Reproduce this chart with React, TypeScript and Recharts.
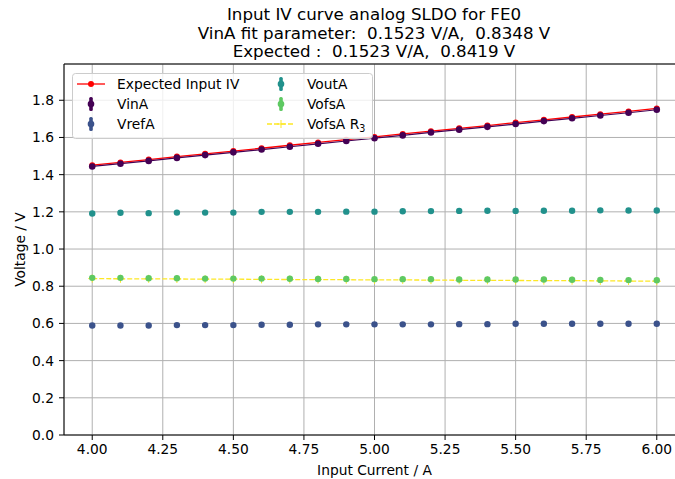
import React from 'react';
import { ComposedChart, Line, XAxis, YAxis, CartesianGrid, Legend, Label } from 'recharts';

const currents = [4.0, 4.1, 4.2, 4.3, 4.4, 4.5, 4.6, 4.7, 4.8, 4.9, 5.0, 5.1, 5.2, 5.3, 5.4, 5.5, 5.6, 5.7, 5.8, 5.9, 6.0];
const expectedIV = [1.451, 1.466, 1.481, 1.497, 1.512, 1.527, 1.542, 1.558, 1.573, 1.588, 1.603, 1.619, 1.634, 1.649, 1.664, 1.680, 1.695, 1.710, 1.725, 1.740, 1.756];
const vinA = [1.444, 1.459, 1.474, 1.490, 1.505, 1.520, 1.535, 1.550, 1.566, 1.581, 1.596, 1.611, 1.627, 1.642, 1.657, 1.672, 1.688, 1.703, 1.718, 1.733, 1.749];
const vrefA = [0.589, 0.589, 0.589, 0.591, 0.591, 0.591, 0.593, 0.593, 0.595, 0.595, 0.595, 0.595, 0.595, 0.596, 0.596, 0.598, 0.598, 0.598, 0.598, 0.598, 0.598];
const voutA = [1.191, 1.195, 1.193, 1.196, 1.196, 1.196, 1.200, 1.200, 1.200, 1.201, 1.201, 1.203, 1.204, 1.205, 1.206, 1.205, 1.206, 1.206, 1.208, 1.207, 1.207];
const vofsA = [0.845, 0.845, 0.843, 0.843, 0.841, 0.841, 0.841, 0.840, 0.839, 0.839, 0.838, 0.838, 0.838, 0.836, 0.836, 0.836, 0.836, 0.835, 0.834, 0.833, 0.832];
const vofsAR3 = [0.841, 0.840, 0.840, 0.839, 0.838, 0.838, 0.837, 0.836, 0.836, 0.835, 0.834, 0.834, 0.833, 0.832, 0.832, 0.831, 0.830, 0.830, 0.829, 0.828, 0.827];

const xTicks = [4.0, 4.25, 4.5, 4.75, 5.0, 5.25, 5.5, 5.75, 6.0];
const yTicks = [0, 0.2, 0.4, 0.6, 0.8, 1.0, 1.2, 1.4, 1.6, 1.8];
const titleLines = [
  'Input IV curve analog SLDO for FE0',
  'VinA fit parameter:  0.1523 V/A,  0.8348 V',
  'Expected :  0.1523 V/A,  0.8419 V',
];

const C_EXP = '#ff0000';
const C_VIN = '#440154';
const C_VREF = '#3b528b';
const C_VOUT = '#21918c';
const C_VOFS = '#5ec962';
const C_R3 = '#fde725';

const FONT = '"DejaVu Sans", sans-serif';

const data = currents.map((x, i) => ({
  x,
  expected: expectedIV[i],
  vinA: vinA[i],
  vrefA: vrefA[i],
  voutA: voutA[i],
  vofsA: vofsA[i],
  vofsAR3: vofsAR3[i],
}));

const makeDot = (color: string, r: number) => (props: any) => (
  <circle key={`d-${color}-${props.index}`} cx={props.cx} cy={props.cy} r={r} fill={color} stroke="none" />
);

const plusDot = (color: string) => (props: any) => (
  <path
    key={`p-${props.index}`}
    d={`M${props.cx - 4},${props.cy}H${props.cx + 4}M${props.cx},${props.cy - 4}V${props.cy + 4}`}
    stroke={color}
    strokeWidth={1}
    fill="none"
  />
);

const LegendBox = () => {
  const rows = [11, 31, 51];
  const txt = (x: number, y: number, s: React.ReactNode) => (
    <text x={x} y={y + 5} fontSize={13.8} fontFamily={FONT} fill="#000">{s}</text>
  );
  const errMark = (cx: number, cy: number, c: string) => (
    <g>
      <rect x={cx - 1.8} y={cy - 7} width={3.6} height={14} fill={c} rx={1.5} />
      <circle cx={cx} cy={cy} r={3.3} fill={c} />
    </g>
  );
  return (
    <svg width={302} height={67} style={{ display: 'block' }}>
      <rect x={0.5} y={0.5} width={300} height={65} rx={3} fill="#ffffff" fillOpacity={0.8} stroke="#cccccc" />
      <line x1={5} y1={rows[0]} x2={33} y2={rows[0]} stroke={C_EXP} strokeWidth={1.3} />
      <circle cx={19} cy={rows[0]} r={3} fill={C_EXP} />
      {txt(45, rows[0], 'Expected Input IV')}
      {errMark(19, rows[1], C_VIN)}
      {txt(45, rows[1], 'VinA')}
      {errMark(19, rows[2], C_VREF)}
      {txt(45, rows[2], 'VrefA')}
      {errMark(209, rows[0], C_VOUT)}
      {txt(235, rows[0], 'VoutA')}
      {errMark(209, rows[1], C_VOFS)}
      {txt(235, rows[1], 'VofsA')}
      <line x1={195} y1={rows[2]} x2={223} y2={rows[2]} stroke={C_R3} strokeWidth={1.3} strokeDasharray="5 2" />
      <path d={`M${205},${rows[2]}H${213}M${209},${rows[2] - 4}V${rows[2] + 4}`} stroke={C_R3} strokeWidth={1} />
      <text x={235} y={rows[2] + 5} fontSize={13.8} fontFamily={FONT} fill="#000">
        VofsA R<tspan fontSize={9.6} dy={3}>3</tspan>
      </text>
    </svg>
  );
};

export default function App() {
  return (
    <div style={{ position: 'fixed', left: 0, top: 0, width: 675, height: 479, overflow: 'hidden', background: '#fff' }}>
      {titleLines.map((t, i) => (
        <div
          key={i}
          style={{
            position: 'absolute',
            left: 374 - 300,
            width: 600,
            top: 20.7 + i * 18.5 - 15.5,
            textAlign: 'center',
            fontFamily: FONT,
            fontSize: 16.7,
            lineHeight: '18px',
            color: '#000',
            whiteSpace: 'pre',
            zIndex: 2,
          }}
        >
          {t}
        </div>
      ))}
      <div style={{ position: 'absolute', left: 0, top: 0 }}>
        <ComposedChart width={700} height={479} data={data} margin={{ top: 63, right: 15, bottom: 0, left: 0 }}>
          <CartesianGrid stroke="#b0b0b0" strokeWidth={1} />
          <XAxis
            dataKey="x"
            type="number"
            domain={[3.9, 6.1]}
            allowDataOverflow
            ticks={xTicks}
            tickFormatter={(v: number) => v.toFixed(2)}
            height={44}
            tickSize={5}
            tickMargin={4}
            stroke="#000"
            tick={{ fill: '#000', fontSize: 13.8, fontFamily: FONT }}
          >
            <Label value="Input Current / A" position="insideBottom" offset={4} style={{ fontSize: 13.8, fontFamily: FONT, fill: '#000' }} />
          </XAxis>
          <XAxis
            xAxisId="top"
            orientation="top"
            type="number"
            domain={[3.9, 6.1]}
            allowDataOverflow
            ticks={xTicks}
            height={1}
            tick={false}
            tickSize={5}
            stroke="#000"
          />
          <YAxis
            type="number"
            domain={[0, 1.995]}
            allowDataOverflow
            ticks={yTicks}
            tickFormatter={(v: number) => v.toFixed(1)}
            width={64}
            tickSize={5}
            tickMargin={5}
            stroke="#000"
            tick={{ fill: '#000', fontSize: 13.8, fontFamily: FONT }}
          >
            <Label value="Voltage / V" angle={-90} position="insideLeft" offset={20} style={{ fontSize: 13.8, fontFamily: FONT, fill: '#000', textAnchor: 'middle' }} />
          </YAxis>
          <Line dataKey="vrefA" stroke="none" dot={makeDot(C_VREF, 3.2)} isAnimationActive={false} />
          <Line dataKey="voutA" stroke="none" dot={makeDot(C_VOUT, 3.2)} isAnimationActive={false} />
          <Line dataKey="vofsAR3" stroke={C_R3} strokeWidth={1.3} strokeDasharray="5 2" dot={plusDot(C_R3)} isAnimationActive={false} />
          <Line dataKey="vofsA" stroke="none" dot={makeDot(C_VOFS, 3.2)} isAnimationActive={false} />
          <Line dataKey="expected" stroke={C_EXP} strokeWidth={1.3} dot={makeDot(C_EXP, 3)} isAnimationActive={false} />
          <Line dataKey="vinA" stroke={C_VIN} strokeWidth={1.2} dot={makeDot(C_VIN, 3.3)} isAnimationActive={false} />
          <Legend
            layout="vertical"
            align="center"
            verticalAlign="middle"
            content={() => <LegendBox />}
            wrapperStyle={{ position: 'absolute', left: 72, top: 73, width: 302, height: 67 }}
          />
        </ComposedChart>
      </div>
    </div>
  );
}
